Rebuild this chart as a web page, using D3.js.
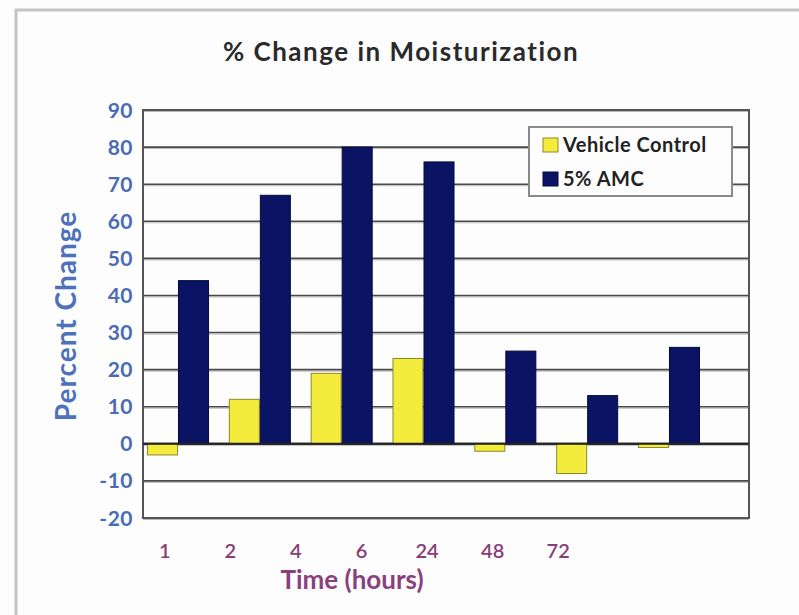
<!DOCTYPE html>
<html lang="en">
	<head>
		<meta charset="utf-8">
		<title>% Change in Moisturization</title>
		<script src="https://d3js.org/d3.v7.min.js"></script>
		<style type="text/css">
			body, html {
				margin: 0;
				background-color: #fdfdfd;
			}
			svg {
				display: block;
				font-family: "Lato", "Open Sans", sans-serif;
			}
		</style>
	</head>
	<body>
		<svg width="799" height="615"></svg>
		<script type="text/javascript">
		//Chart data
		var hours = ["1", "2", "4", "6", "24", "48", "72"];
		var vehicleControl = [-3, 12, 19, 23, -2, -8, -1];
		var amc = [44, 67, 80, 76, 25, 13, 26];
		var seriesNames = ["Vehicle Control", "5% AMC"];
		var yTicks = [-20, -10, 0, 10, 20, 30, 40, 50, 60, 70, 80, 90];

		var colors = ["#f4ec3c", "#0b1464"];
		var strokes = ["#8c8a2a", "#050a3a"];

		var svg = d3.select("svg");

		//Light outer frame
		svg.append("path")
			.attr("d", "M16,615V10H799")
			.attr("fill", "none")
			.attr("stroke", "#c4c4c4")
			.attr("stroke-width", 3);

		//Plot area
		var plot = {left: 143, right: 749, top: 110, bottom: 518};

		var y = d3.scaleLinear()
			.domain([-20, 90])
			.range([plot.bottom, plot.top]);

		//Bar groups sit in their own band, a bit off from the tick labels
		var x0 = d3.scaleBand()
			.domain(hours)
			.range([147, 700])
			.paddingInner(0.242)
			.paddingOuter(0);

		var x1 = d3.scaleBand()
			.domain([0, 1])
			.range([0, x0.bandwidth()]);

		var xLabels = d3.scaleBand()
			.domain(hours)
			.range([132, 591]);

		//Gridlines
		svg.append("g")
			.selectAll("line")
			.data(yTicks)
			.enter()
			.append("line")
				.attr("x1", plot.left)
				.attr("x2", plot.right)
				.attr("y1", function(d){ return y(d) + 1.5; })
				.attr("y2", function(d){ return y(d) + 1.5; })
				.attr("stroke", "#b8b8b8")
				.attr("stroke-width", 1);
		svg.append("g")
			.selectAll("line")
			.data(yTicks)
			.enter()
			.append("line")
				.attr("x1", plot.left)
				.attr("x2", plot.right)
				.attr("y1", function(d){ return y(d); })
				.attr("y2", function(d){ return y(d); })
				.attr("stroke", function(d){ return d === 0 ? "#222" : "#4a4a4a"; })
				.attr("stroke-width", function(d){ return d === 0 ? 2 : 1.6; });

		//Plot border
		svg.append("rect")
			.attr("x", plot.left)
			.attr("y", plot.top)
			.attr("width", plot.right - plot.left)
			.attr("height", plot.bottom - plot.top)
			.attr("fill", "none")
			.attr("stroke", "#555")
			.attr("stroke-width", 2);

		//Bars
		var series = [vehicleControl, amc];
		var groups = svg.append("g")
			.selectAll("g")
			.data(series)
			.enter()
			.append("g")
				.attr("fill", function(d, i){ return colors[i]; })
				.attr("stroke", function(d, i){ return strokes[i]; });

		groups.selectAll("rect")
			.data(function(d, i){
				return d.map(function(v, j){ return {s: i, hour: hours[j], value: v}; });
			})
			.enter()
			.append("rect")
				.attr("x", function(d){ return x0(d.hour) + x1(d.s) + 0.5; })
				.attr("y", function(d){ return y(Math.max(0, d.value)); })
				.attr("width", x1.bandwidth() - 1)
				.attr("height", function(d){ return Math.abs(y(d.value) - y(0)); })
				.attr("stroke-width", 1);

		//Redraw zero line over the bars
		svg.append("line")
			.attr("x1", plot.left)
			.attr("x2", plot.right)
			.attr("y1", y(0))
			.attr("y2", y(0))
			.attr("stroke", "#222")
			.attr("stroke-width", 2);

		//Y axis labels
		svg.append("g")
			.selectAll("text")
			.data(yTicks)
			.enter()
			.append("text")
				.attr("x", 133)
				.attr("y", function(d){ return y(d); })
				.attr("dy", "0.36em")
				.attr("text-anchor", "end")
				.attr("fill", "#4a6cb4")
				.style("font-size", "21px")
				.style("font-weight", "bold")
				.style("letter-spacing", "0.5px")
				.text(function(d){ return d; });

		//X axis labels
		svg.append("g")
			.selectAll("text")
			.data(hours)
			.enter()
			.append("text")
				.attr("x", function(d){ return xLabels(d) + xLabels.bandwidth() / 2; })
				.attr("y", 558)
				.attr("text-anchor", "middle")
				.attr("fill", "#8a3c78")
				.style("font-size", "20px")
				.style("font-weight", 600)
				.text(function(d){ return d; });

		//Titles
		svg.append("text")
			.attr("x", 401)
			.attr("y", 61)
			.attr("text-anchor", "middle")
			.attr("fill", "#2a2a2a")
			.style("font-size", "26px")
			.style("font-weight", "bold")
			.style("letter-spacing", "1.5px")
			.text("% Change in Moisturization");

		svg.append("text")
			.attr("x", 352)
			.attr("y", 589)
			.attr("text-anchor", "middle")
			.attr("fill", "#8c3f7d")
			.style("font-size", "26px")
			.style("font-weight", "bold")
			.text("Time (hours)");

		svg.append("text")
			.attr("transform", "translate(76,316) rotate(-90)")
			.attr("text-anchor", "middle")
			.attr("fill", "#4d72ba")
			.style("font-size", "28px")
			.style("font-weight", "bold")
			.style("letter-spacing", "1px")
			.text("Percent Change");

		//Legend
		var legend = svg.append("g")
			.attr("transform", "translate(529,127)");
		legend.append("rect")
			.attr("width", 203)
			.attr("height", 69)
			.attr("fill", "#fdfdfd")
			.attr("stroke", "#8a8a8a")
			.attr("stroke-width", 2);
		var items = legend.selectAll("g.item")
			.data(seriesNames)
			.enter()
			.append("g")
				.attr("class", "item")
				.attr("transform", function(d, i){ return "translate(14," + (11 + i * 34) + ")"; });
		items.append("rect")
			.attr("width", 15)
			.attr("height", 14)
			.attr("fill", function(d, i){ return colors[i]; })
			.attr("stroke", function(d, i){ return strokes[i]; })
			.attr("stroke-width", 1);
		items.append("text")
			.attr("x", 20)
			.attr("y", 14)
			.attr("fill", "#222")
			.style("font-size", "20px")
			.style("font-weight", "bold")
			.style("letter-spacing", "0.5px")
			.text(function(d){ return d; });
		</script>
	</body>
</html>
